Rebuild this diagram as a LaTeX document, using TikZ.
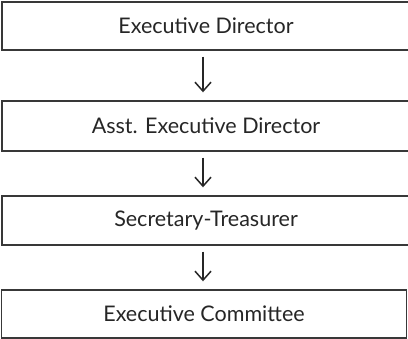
\documentclass[tikz,border=0pt]{standalone}
\usepackage{fontspec}
\setmainfont{Lato}
\usetikzlibrary{arrows.meta}
\begin{document}
\begin{tikzpicture}[x=1pt,y=1pt,
  box/.style={draw=black!78, line width=1.4pt, rectangle, inner sep=0pt,
    minimum height=48pt, text=black!85, font=\fontsize{21.5}{24}\selectfont},
  flow/.style={draw=black!85, line width=1.5pt,
    -{Straight Barb[length=9pt,width=16pt,line width=1.5pt]},
    shorten <=6pt, shorten >=8pt}]
\useasboundingbox (0,0) rectangle (408,339);
\node[box, minimum width=408pt] (ed) at (206,313) {Executive Director};
\node[box, minimum width=408pt, minimum height=50pt] (aed) at (206,213) {Asst. Executive Director};
\node[box, minimum width=408pt, minimum height=49pt] (st) at (206,118.5) {Secretary-Treasurer};
\node[box, minimum width=405pt] (ec) at (204,25) {Executive Committee};
\draw[flow] (ed.south -| 203,0) -- (aed.north -| 203,0);
\draw[flow] (aed.south -| 203,0) -- (st.north -| 203,0);
\draw[flow] (st.south -| 203,0) -- (ec.north -| 203,0);
\end{tikzpicture}
\end{document}
